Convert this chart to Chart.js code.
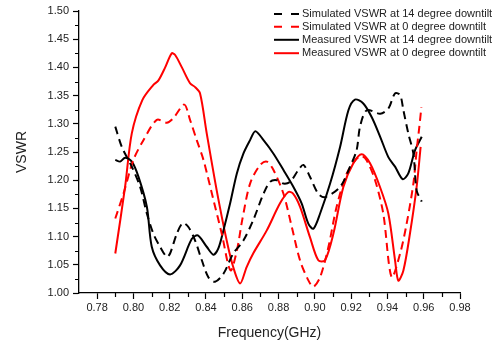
<!DOCTYPE html>
<html><head><meta charset="utf-8">
<script src="https://cdn.jsdelivr.net/npm/chart.js@4/dist/chart.umd.min.js"></script>
<style>html,body{margin:0;padding:0;background:#fff;}#wrap{width:494px;height:342px;}</style>
</head><body><div id="wrap"><canvas id="c" width="494" height="342"></canvas></div>
<script>
const seriesLabels = [
  "Simulated VSWR at 14 degree downtilt",
  "Simulated VSWR at 0 degree downtilt",
  "Measured VSWR at 14 degree downtilt",
  "Measured VSWR at 0 degree downtilt"
];
const xTickValues = [0.78,0.80,0.82,0.84,0.86,0.88,0.90,0.92,0.94,0.96,0.98];
const yTickValues = [1.00,1.05,1.10,1.15,1.20,1.25,1.30,1.35,1.40,1.45,1.50];

const sim14X = [0.790,0.7936,0.7991,0.8037,0.8074,0.8110,0.8147,0.8184,0.8202,0.8239,0.8272,0.8303,0.8340,0.8377,0.8413,0.8450,0.8496,0.8550,0.8606,0.8660,0.8717,0.8753,0.8790,0.8827,0.8863,0.8909,0.8937,0.8973,0.9019,0.9056,0.9139,0.9194,0.9230,0.9249,0.9286,0.9360,0.9405,0.9442,0.9470,0.9488,0.9515,0.9543,0.9561,0.9589];
const sim14Y = [1.295,1.259,1.224,1.188,1.141,1.105,1.082,1.064,1.070,1.105,1.124,1.117,1.093,1.058,1.028,1.020,1.034,1.070,1.093,1.129,1.176,1.197,1.200,1.194,1.197,1.218,1.227,1.206,1.176,1.170,1.188,1.224,1.253,1.295,1.324,1.318,1.327,1.354,1.351,1.324,1.283,1.247,1.182,1.162];

const sim0X = [0.790,0.7945,0.800,0.8055,0.8129,0.8184,0.8220,0.8280,0.8312,0.8349,0.8386,0.8441,0.8487,0.8535,0.8570,0.8600,0.8643,0.8698,0.8735,0.8772,0.8827,0.8873,0.8918,0.8965,0.8992,0.9029,0.9075,0.9120,0.9176,0.9230,0.9258,0.9286,0.9332,0.9377,0.9423,0.9470,0.9506,0.9543,0.9561,0.9576,0.9587];
const sim0Y = [1.132,1.176,1.236,1.271,1.307,1.302,1.310,1.334,1.307,1.271,1.236,1.165,1.105,1.040,1.075,1.130,1.194,1.227,1.233,1.218,1.176,1.117,1.058,1.022,1.011,1.028,1.082,1.153,1.212,1.238,1.243,1.235,1.200,1.141,1.028,1.070,1.123,1.194,1.253,1.295,1.329];

const meas14X = [0.790,0.7927,0.7954,0.7991,0.8028,0.8074,0.8101,0.8147,0.8202,0.8257,0.8322,0.8355,0.8404,0.8441,0.8468,0.8496,0.8533,0.8570,0.8606,0.8643,0.8672,0.8717,0.8772,0.8827,0.8882,0.8927,0.8964,0.8992,0.9029,0.9084,0.9139,0.9185,0.9221,0.9267,0.9313,0.9360,0.9405,0.9442,0.9484,0.9515,0.9552,0.9589];
const meas14Y = [1.236,1.233,1.240,1.233,1.206,1.153,1.082,1.049,1.033,1.049,1.096,1.102,1.082,1.068,1.079,1.111,1.159,1.212,1.247,1.271,1.287,1.271,1.247,1.218,1.188,1.159,1.123,1.114,1.141,1.194,1.259,1.324,1.343,1.336,1.312,1.277,1.241,1.224,1.202,1.212,1.253,1.277];

const meas0X = [0.790,0.7954,0.7991,0.8049,0.8110,0.8138,0.8175,0.8211,0.8230,0.8267,0.8312,0.8340,0.8367,0.8404,0.8459,0.8514,0.8550,0.8588,0.8624,0.8660,0.8735,0.8808,0.8854,0.8880,0.8918,0.8973,0.9019,0.9056,0.9102,0.9157,0.9212,0.9258,0.9304,0.9359,0.9405,0.9442,0.9460,0.9488,0.9524,0.9561,0.9583];
const meas0Y = [1.070,1.188,1.283,1.342,1.369,1.377,1.400,1.425,1.422,1.400,1.372,1.365,1.354,1.283,1.182,1.093,1.046,1.017,1.046,1.070,1.111,1.159,1.179,1.176,1.153,1.099,1.058,1.058,1.105,1.188,1.230,1.246,1.230,1.188,1.141,1.058,1.022,1.040,1.105,1.188,1.259];

const xMinorValues = [0.79,0.81,0.83,0.85,0.87,0.89,0.91,0.93,0.95,0.97];
const yMinorValues = [1.025,1.075,1.125,1.175,1.225,1.275,1.325,1.375,1.425,1.475];

function pts(xs, ys){ return xs.map((x,i)=>({x:x, y:ys[i]})); }
const RED = '#ff0000', BLACK = '#000000', DASH = [8,5];

const legendPlugin = {
  id: 'customLegend',
  afterDraw(chart){
    const ctx = chart.ctx;
    ctx.save();
    ctx.font = '11px "Liberation Sans", Arial, sans-serif';
    ctx.textBaseline = 'middle';
    const rows = [14, 26.8, 39.8, 53.2];
    chart.data.datasets.forEach((ds, i) => {
      const y = rows[i];
      ctx.strokeStyle = ds.borderColor;
      ctx.lineWidth = 2;
      ctx.beginPath();
      if (ds.borderDash && ds.borderDash.length) {
        ctx.moveTo(274, y); ctx.lineTo(282, y);
        ctx.moveTo(291, y); ctx.lineTo(299, y);
      } else {
        ctx.moveTo(274, y); ctx.lineTo(299, y);
      }
      ctx.stroke();
      ctx.fillStyle = '#222';
      ctx.fillText(ds.label, 302, y);
    });
    ctx.restore();
  }
};

const minorTickPlugin = {
  id: 'minorTicks',
  afterDraw(chart){
    const ctx = chart.ctx, xs = chart.scales.x, ys = chart.scales.y;
    const a = chart.chartArea;
    ctx.save();
    ctx.strokeStyle = '#000'; ctx.lineWidth = 1.2;
    ctx.beginPath();
    xMinorValues.forEach(v => { const p = Math.round(xs.getPixelForValue(v)) + 0.5; ctx.moveTo(p, a.bottom); ctx.lineTo(p, a.bottom + 4); });
    yMinorValues.forEach(v => { const p = Math.round(ys.getPixelForValue(v)) + 0.5; ctx.moveTo(a.left, p); ctx.lineTo(a.left - 4, p); });
    ctx.stroke();
    ctx.restore();
  }
};

const tickFont = {family: '"Liberation Sans", Arial, sans-serif', size: 11};
new Chart(document.getElementById('c'), {
  type: 'line',
  data: {
    datasets: [
      {label: seriesLabels[0], data: pts(sim14X, sim14Y), borderColor: BLACK, borderDash: DASH},
      {label: seriesLabels[1], data: pts(sim0X, sim0Y), borderColor: RED, borderDash: DASH},
      {label: seriesLabels[2], data: pts(meas14X, meas14Y), borderColor: BLACK},
      {label: seriesLabels[3], data: pts(meas0X, meas0Y), borderColor: RED}
    ]
  },
  options: {
    responsive: false,
    animation: false,
    layout: {padding: {top: 11, right: 34, left: 0, bottom: 0}},
    elements: {
      point: {radius: 0},
      line: {borderWidth: 2, tension: 0.3, fill: false}
    },
    plugins: {legend: {display: false}, tooltip: {enabled: false}},
    scales: {
      x: {
        type: 'linear', min: 0.77, max: 0.98,
        afterBuildTicks: s => { s.ticks = xTickValues.map(v => ({value: v})); },
        afterFit: s => { s.height = 49; },
        ticks: {font: tickFont, color: '#222', padding: 2, maxRotation: 0, callback: v => v.toFixed(2)},
        grid: {drawOnChartArea: false, tickLength: 6, color: '#000', tickColor: '#000', tickWidth: 1.2},
        border: {color: '#000', width: 1.3},
        title: {display: true, text: 'Frequency(GHz)', color: '#222', font: {family: '"Liberation Sans", Arial, sans-serif', size: 14}, padding: {top: 8, bottom: 0}}
      },
      y: {
        type: 'linear', min: 1.0, max: 1.5,
        afterBuildTicks: s => { s.ticks = yTickValues.map(v => ({value: v})); },
        afterFit: s => { s.width = 79; },
        ticks: {font: tickFont, color: '#222', padding: 4, callback: v => v.toFixed(2)},
        grid: {drawOnChartArea: false, tickLength: 6, color: '#000', tickColor: '#000', tickWidth: 1.2},
        border: {color: '#000', width: 1.3},
        title: {display: true, text: 'VSWR', color: '#222', font: {family: '"Liberation Sans", Arial, sans-serif', size: 14}, padding: {top: 14, bottom: 0}}
      }
    }
  },
  plugins: [minorTickPlugin, legendPlugin]
});
</script></body></html>
